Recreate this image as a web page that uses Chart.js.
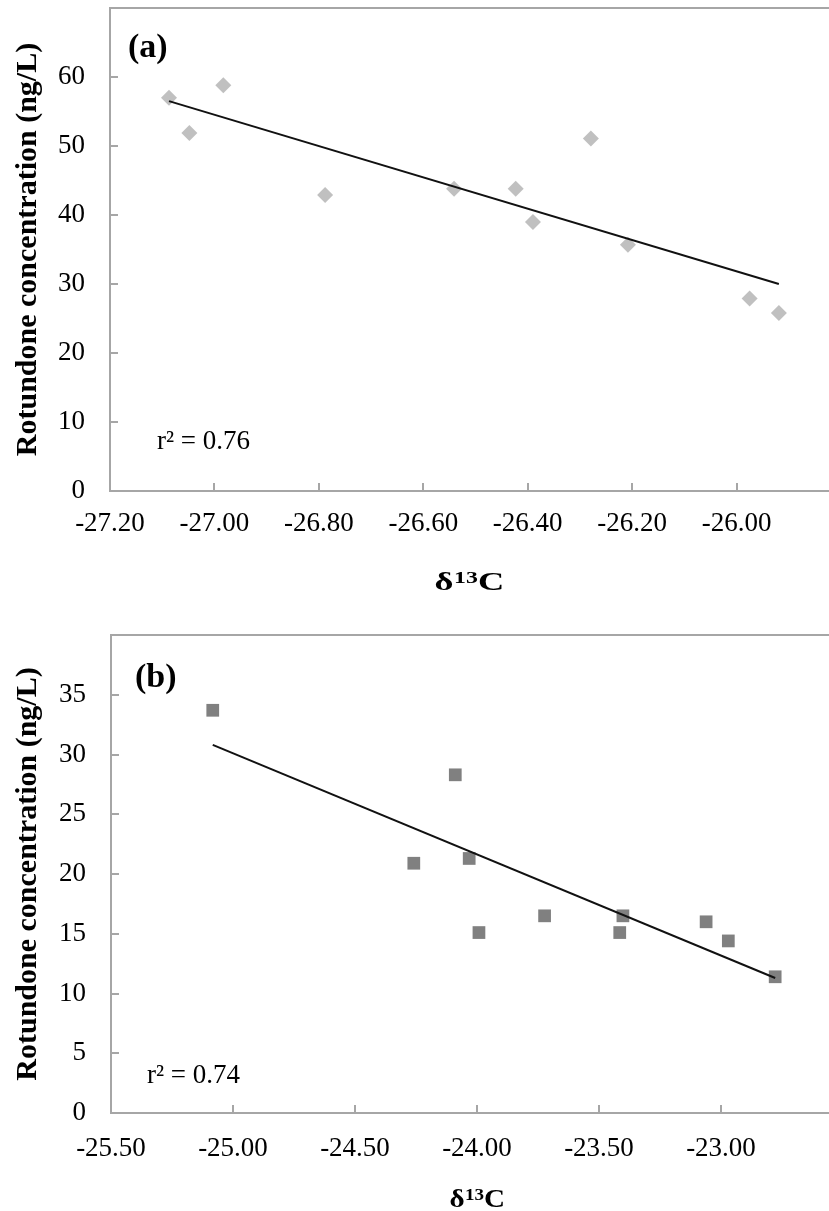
<!DOCTYPE html>
<html><head><meta charset="utf-8">
<script src="https://cdn.jsdelivr.net/npm/chart.js@4.4.1/dist/chart.umd.min.js"></script>
<style>
html,body{margin:0;padding:0;background:#fff;width:829px;height:1211px;overflow:hidden;position:relative}
canvas{position:absolute;left:0}
</style></head><body>
<canvas id="ca" width="880" height="600" style="top:0px"></canvas>
<canvas id="cb" width="880" height="611" style="top:600px"></canvas>
<script>
// ---- Panel (a) data ----
const aX = [-27.087, -27.048, -26.983, -26.788, -26.541, -26.423, -26.390, -26.279, -26.208, -25.975, -25.919];
const aY = [57.0, 51.9, 58.8, 42.9, 43.8, 43.8, 39.0, 51.1, 35.7, 27.9, 25.8];
const aTrendX = [-27.087, -25.919];
const aTrendY = [56.5, 30.0];
const aXTicks = [-27.20, -27.00, -26.80, -26.60, -26.40, -26.20, -26.00, -25.80];
const aYTicks = [0, 10, 20, 30, 40, 50, 60];
const aYMax = 70;
// ---- Panel (b) data ----
const bX = [-25.083, -24.259, -24.089, -24.032, -23.992, -23.723, -23.415, -23.402, -23.061, -22.970, -22.778];
const bY = [33.7, 20.9, 28.3, 21.3, 15.1, 16.5, 15.1, 16.5, 16.0, 14.4, 11.4];
const bTrendX = [-25.083, -22.778];
const bTrendY = [30.8, 11.3];
const bXTicks = [-25.50, -25.00, -24.50, -24.00, -23.50, -23.00, -22.50];
const bYTicks = [0, 5, 10, 15, 20, 25, 30, 35];
const bYMax = 40;

const yTitle = 'Rotundone concentration (ng/L)';
const xTitleParts = ['δ', '13', 'C'];
const FONT = '"Liberation Serif", "Times New Roman", serif';
const AXIS = '#a6a6a6';

const deco = {
  id: 'deco',
  afterDraw(chart, args, o) {
    const {ctx, chartArea: a, scales: {x, y}} = chart;
    ctx.save();
    ctx.strokeStyle = AXIS; ctx.lineWidth = 2;
    ctx.beginPath();
    ctx.moveTo(a.left - 1, a.top); ctx.lineTo(a.right + 1, a.top);
    ctx.moveTo(a.right, a.top); ctx.lineTo(a.right, a.bottom);
    x.ticks.forEach(t => { const p = Math.round(x.getPixelForValue(t.value)); ctx.moveTo(p, a.bottom); ctx.lineTo(p, a.bottom - 8); });
    y.ticks.forEach(t => { const p = Math.round(y.getPixelForValue(t.value)); ctx.moveTo(a.left, p); ctx.lineTo(a.left + 8, p); });
    ctx.stroke();
    ctx.fillStyle = '#000';
    ctx.textBaseline = 'middle'; ctx.textAlign = 'left';
    ctx.font = 'bold 34px ' + FONT;
    ctx.fillText(o.panel, a.left + o.pdx, a.top + o.pdy);
    ctx.font = '27px ' + FONT;
    ctx.fillText(o.r2, a.left + o.rdx, a.bottom - o.rdy);
    // x-axis title with real superscript
    const big = 'bold 26px ' + FONT, small = 'bold 17px ' + FONT;
    ctx.textBaseline = 'alphabetic';
    ctx.translate(a.left + o.tdx, a.bottom + o.tdy);
    ctx.scale(o.tsx, 1);
    ctx.font = big; const w1 = ctx.measureText(xTitleParts[0]).width;
    ctx.font = small; const w2 = ctx.measureText(xTitleParts[1]).width;
    ctx.font = big; const w3 = ctx.measureText(xTitleParts[2]).width;
    const x0 = -(w1 + w2 + w3) / 2;
    ctx.font = big; ctx.fillText(xTitleParts[0], x0, 0);
    ctx.font = small; ctx.fillText(xTitleParts[1], x0 + w1 + 0.5, -7);
    ctx.font = big; ctx.fillText(xTitleParts[2], x0 + w1 + w2 + 0.5, 0);
    ctx.restore();
  }
};

function makeChart(id, xs, ys, tx, ty, xTicks, yTicks, yMax, shape, color, radius, ann, dims) {
  const pts = xs.map((v, i) => ({x: v, y: ys[i]}));
  const tr = tx.map((v, i) => ({x: v, y: ty[i]}));
  return new Chart(document.getElementById(id), {
    type: 'scatter',
    data: {datasets: [
      {data: pts, pointStyle: shape, pointRadius: radius, pointHoverRadius: radius,
       backgroundColor: color, borderColor: color, borderWidth: 0, order: 2},
      {type: 'line', data: tr, showLine: true, borderColor: '#111', borderWidth: 2,
       pointRadius: 0, fill: false, order: 1}
    ]},
    options: {
      responsive: false, animation: false, devicePixelRatio: 1,
      layout: {padding: {left: 0, top: dims.top, right: dims.right, bottom: 0}},
      plugins: {legend: {display: false}, tooltip: {enabled: false}, deco: ann},
      scales: {
        x: {
          type: 'linear', min: xTicks[0], max: xTicks[xTicks.length - 1],
          afterBuildTicks: s => { s.ticks = xTicks.map(v => ({value: v})); },
          afterFit: s => { s.height = dims.xh; s.paddingLeft = 0; s.paddingRight = 0; },
          grid: {display: false, drawTicks: false},
          border: {display: true, color: AXIS, width: 2},
          ticks: {color: '#000', font: {family: FONT, size: 27}, padding: dims.xpad,
                  maxRotation: 0, autoSkip: false,
                  callback: (v, i, t) => i === t.length - 1 ? '' : Number(v).toFixed(2)},
          title: {display: false}
        },
        y: {
          type: 'linear', min: 0, max: yMax,
          afterBuildTicks: s => { s.ticks = yTicks.map(v => ({value: v})); },
          afterFit: s => { s.width = dims.yw; s.paddingTop = 0; s.paddingBottom = 0; },
          grid: {display: false, drawTicks: false},
          border: {display: true, color: AXIS, width: 2},
          ticks: {color: '#000', font: {family: FONT, size: 27}, padding: 25,
                  callback: v => String(v)},
          title: {display: true, text: yTitle, color: '#000',
                  font: {family: FONT, size: 30, weight: 'bold', lineHeight: 1},
                  padding: {top: 13, bottom: 0}}
        }
      }
    },
    plugins: [deco]
  });
}

makeChart('ca', aX, aY, aTrendX, aTrendY, aXTicks, aYTicks, aYMax, 'rectRot', '#c0c0c0', 8,
  {panel: '(a)', pdx: 18, pdy: 40, r2: 'r² = 0.76', rdx: 47, rdy: 49, tdx: 359, tdy: 99, tsx: 1.4},
  {top: 7, right: 39, xh: 109, yw: 110, xpad: 17});

makeChart('cb', bX, bY, bTrendX, bTrendY, bXTicks, bYTicks, bYMax, 'rect', '#808080', 9,
  {panel: '(b)', pdx: 24, pdy: 43, r2: 'r² = 0.74', rdx: 36, rdy: 37, tdx: 366, tdy: 94, tsx: 1.12},
  {top: 35, right: 37, xh: 98, yw: 111, xpad: 20});
</script>
</body></html>
